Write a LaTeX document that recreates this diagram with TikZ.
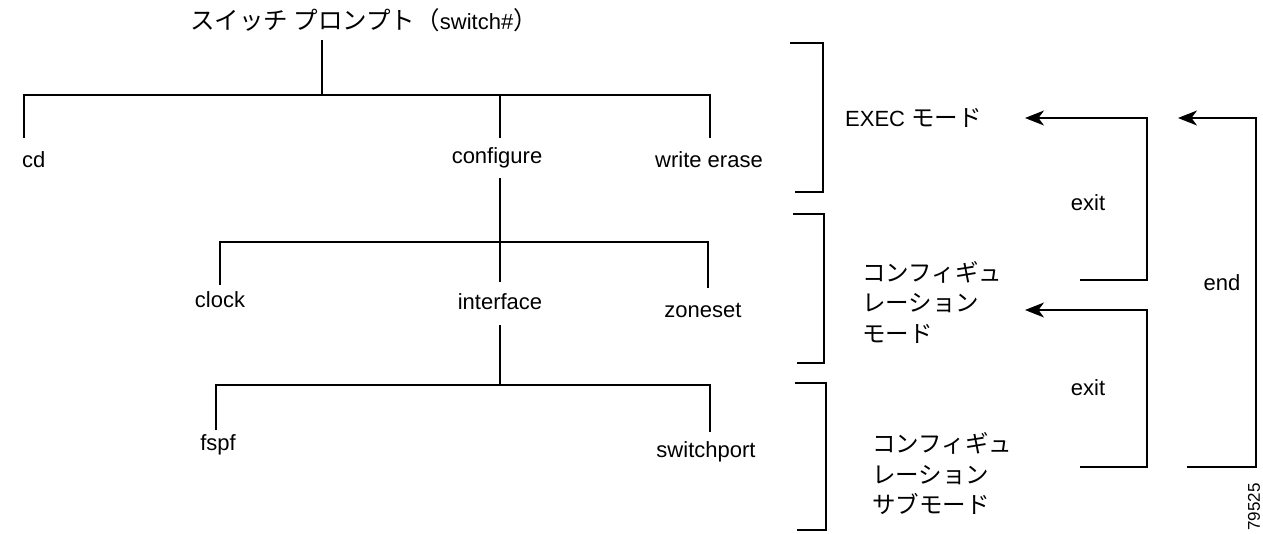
\documentclass[tikz,border=0pt]{standalone}
\usepackage{fontspec}
\setmainfont{Liberation Sans}
\newfontfamily\jp{Noto Sans CJK JP}
\usetikzlibrary{arrows.meta}
\newcommand{\jpbig}{\fontsize{24.5}{26}\selectfont\jp}
\begin{document}
\begin{tikzpicture}[x=1pt,y=-1pt,
  ln/.style={line width=1.1pt},
  lbl/.style={font=\fontsize{22}{26}\selectfont, inner sep=0pt},
  jlbl/.style={font=\fontsize{23.5}{30.5}\selectfont\jp, inner sep=0pt, align=left},
  arr/.style={ln, -{Stealth[length=19pt,width=15pt,inset=5.5pt]}}]
\useasboundingbox (0,0) rectangle (1263,533);
% title
\node[lbl] (title) at (364,20) {{\jpbig スイッチ プロンプト（}switch\#{\jpbig ）}};
\coordinate (t0) at (322,40);
\coordinate (j0) at (322,95);
\coordinate (a1) at (24,95);  \coordinate (a1e) at (24,138);
\coordinate (a2) at (500,95); \coordinate (a2e) at (500,138);
\coordinate (a3) at (710,95); \coordinate (a3e) at (710,138);
\draw[ln] (t0) -- (j0);
\draw[ln] (a1e) -- (a1) -- (a3) -- (a3e);
\draw[ln] (a2) -- (a2e);
\node[lbl, anchor=west] (cd) at (22,160) {cd};
\node[lbl] (configure) at (497,158) {configure};
\node[lbl] (writeerase) at (709,160) {write erase};
% level 2
\coordinate (b0) at (500,178); \coordinate (b0e) at (500,282);
\coordinate (b1) at (220,242); \coordinate (b1e) at (220,285);
\coordinate (b3) at (708,242); \coordinate (b3e) at (708,288);
\draw[ln] (b0) -- (b0e);
\draw[ln] (b1e) -- (b1) -- (b3) -- (b3e);
\node[lbl] (clock) at (220,300) {clock};
\node[lbl] (interface) at (500,302) {interface};
\node[lbl] (zoneset) at (703,310) {zoneset};
% level 3
\coordinate (c0) at (500,325); \coordinate (c0e) at (500,385);
\coordinate (c1) at (216,385); \coordinate (c1e) at (216,430);
\coordinate (c3) at (710,385); \coordinate (c3e) at (710,432);
\draw[ln] (c0) -- (c0e);
\draw[ln] (c1e) -- (c1) -- (c3) -- (c3e);
\node[lbl] (fspf) at (218,445) {fspf};
\node[lbl] (switchport) at (706,452) {switchport};
% brackets
\draw[ln] (790,43) -- (823,43) -- (823,192) -- (795,192);
\draw[ln] (793,214) -- (824,214) -- (824,363) -- (797,363);
\draw[ln] (795,383) -- (826,383) -- (826,530) -- (797,530);
% mode labels
\node[lbl, anchor=west] (exec) at (845,118) {EXEC {\fontsize{23.5}{26}\selectfont\jp モード}};
\node[jlbl, anchor=west] (conf) at (862,302) {コンフィギュ\\レーション\\モード};
\node[jlbl, anchor=west] (sub) at (872,474) {コンフィギュ\\レーション\\サブモード};
\node[lbl] (exit1) at (1088,203) {exit};
\node[lbl] (exit2) at (1088,388) {exit};
\node[lbl] (end) at (1222,283) {end};
\node[font=\fontsize{17}{19}\selectfont, rotate=90, inner sep=0pt] (fig) at (1254,507) {79525};
% arrows
\coordinate (e1s) at (1080,280); \coordinate (e1c) at (1147,118); \coordinate (e1t) at (1025,118);
\coordinate (e2s) at (1080,467); \coordinate (e2c) at (1147,310); \coordinate (e2t) at (1025,310);
\coordinate (e3s) at (1187,467); \coordinate (e3c) at (1256,118); \coordinate (e3t) at (1178,118);
\draw[arr] (e1s) -| (e1c) -- (e1t);
\draw[arr] (e2s) -| (e2c) -- (e2t);
\draw[arr] (e3s) -| (e3c) -- (e3t);
\end{tikzpicture}
\end{document}
